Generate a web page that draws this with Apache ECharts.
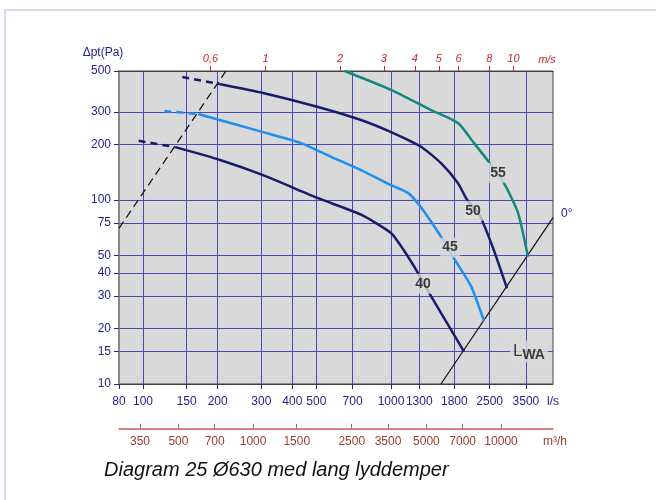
<!DOCTYPE html>
<html lang="no">
<head>
<meta charset="UTF-8">
<title>Diagram 25</title>
<script src="https://cdn.jsdelivr.net/npm/echarts@6/dist/echarts.min.js"></script>
<style>
    html, body { margin: 0; padding: 0; background: #fff; overflow: hidden; }
    .frame { position: absolute; left: 4px; top: 9px; width: 700px; height: 600px; border: 2px solid #d4dbf0; }
    #chart { position: absolute; left: 0; top: 0; width: 656px; height: 500px; }
</style>
</head>
<body>
<div class="frame"></div>
<div id="chart"></div>
<script type="text/javascript">
    // tick values of the axes
    var lsTicks = [80, 100, 150, 200, 300, 400, 500, 700, 1000, 1300, 1800, 2500, 3500];
    var msTicks = [0.6, 1, 2, 3, 4, 5, 6, 8, 10];
    var m3hTicks = [350, 500, 700, 1000, 1500, 2500, 3500, 5000, 7000, 10000];
    var paTicks = [10, 15, 20, 30, 40, 50, 75, 100, 200, 300, 500];

    // curves: [l/s, Pa]
    var curve40Dash = [[96, 209], [135, 193]];
    var curve40 = [[135, 193], [206, 164], [305, 136], [508, 102], [757, 83], [1000, 66], [1128, 53], [1285, 40], [1450, 30], [1970, 15]];
    var curve45Dash = [[122, 303], [167, 292]];
    var curve45 = [[167, 292], [305, 233], [434, 203], [573, 171], [757, 145], [1000, 120], [1171, 109], [1321, 91], [1591, 63], [1795, 48], [2102, 34], [2371, 22]];
    var curve50Dash = [[144, 464], [203, 425]];
    var curve50 = [[203, 425], [305, 380], [508, 319], [757, 271], [1000, 233], [1321, 194], [1591, 158], [1863, 123], [2025, 100], [2263, 84], [2602, 53], [2936, 33]];
    var curve55 = [[650, 500], [1000, 395], [1450, 307], [1863, 261], [2161, 203], [2484, 160], [2855, 123], [3252, 85], [3568, 49]];
    var limitLine = [[80, 70], [216, 500]];
    var lwaLine = [[1590, 10], [4500, 80]];
    var curveLabels = [[1346, 35, '40'], [1729, 55, '45'], [2141, 87, '50'], [2701, 140, '55']];
    var lwaLabel = [[3600, 15]];

    var qMin = 80, qMax = 4500;
    var msPerLs = 1 / 311.7;   // Ø630
    var m3hPerLs = 3.6;

    var navy = '#1b1b6e';
    var labelBlue = '#24248c';
    var red = '#c02a2a';
    var brown = '#9a3b2b';

    function plain(v) { return String(v); }

    function curve(data, color, dashed) {
        return {
            type: 'line',
            data: data,
            symbol: 'none',
            smooth: 0.2,
            lineStyle: {color: color, width: 2.5, type: dashed ? [7, 5] : 'solid'},
            z: 3
        };
    }

    var chart = echarts.init(document.getElementById('chart'));
    var option = {
        animation: false,
        textStyle: {fontFamily: 'Liberation Sans, Arial, sans-serif'},
        title: {
            text: 'Diagram 25 Ø630 med lang lyddemper',
            left: 99,
            top: 455,
            textStyle: {fontSize: 20, fontStyle: 'italic', fontWeight: 'normal', color: '#111'}
        },
        grid: {left: 119, top: 71, width: 434, height: 313, show: true, backgroundColor: '#d9d9d9', borderColor: '#444', borderWidth: 1},
        xAxis: [
            {
                type: 'log', min: qMin, max: qMax, position: 'bottom',
                name: 'l/s', nameLocation: 'end', nameGap: 0,
                nameTextStyle: {color: labelBlue, fontSize: 12, align: 'center', verticalAlign: 'top', padding: [12, 0, 0, 0]},
                axisLine: {show: true, lineStyle: {color: '#444'}},
                axisTick: {customValues: lsTicks, length: 5, lineStyle: {color: labelBlue}},
                axisLabel: {customValues: lsTicks, margin: 12, color: labelBlue, fontSize: 12, formatter: plain},
                splitLine: {show: true, lineStyle: {color: '#4848b8', width: 1}}
            },
            {
                type: 'log', min: qMin * msPerLs, max: qMax * msPerLs, position: 'top',
                name: 'm/s', nameLocation: 'end', nameGap: 0,
                nameTextStyle: {color: red, fontSize: 11, fontStyle: 'italic', align: 'center', verticalAlign: 'bottom', padding: [0, 12, 6, 0]},
                axisLine: {show: true, lineStyle: {color: '#444'}},
                axisTick: {customValues: msTicks, length: 5, lineStyle: {color: red}},
                axisLabel: {
                    customValues: msTicks, margin: 7, color: red, fontSize: 11, fontStyle: 'italic',
                    formatter: function (v) { return String(v).replace('.', ','); }
                },
                splitLine: {show: false}
            },
            {
                type: 'log', min: qMin * m3hPerLs, max: qMax * m3hPerLs, position: 'bottom', offset: 45,
                name: 'm³/h', nameLocation: 'end', nameGap: 0,
                nameTextStyle: {color: brown, fontSize: 12, align: 'center', verticalAlign: 'top', padding: [7, 0, 0, 4]},
                axisLine: {show: true, lineStyle: {color: '#c85a50', width: 1.5}},
                axisTick: {customValues: m3hTicks, inside: true, length: 5, lineStyle: {color: '#c85a50'}},
                axisLabel: {customValues: m3hTicks, margin: 7, color: brown, fontSize: 12, formatter: plain},
                splitLine: {show: false}
            }
        ],
        yAxis: {
            type: 'log', min: 10, max: 500,
            name: 'Δpt(Pa)', nameLocation: 'end', nameGap: 12,
            nameTextStyle: {color: labelBlue, fontSize: 12, align: 'center', padding: [0, 32, 0, 0]},
            axisLine: {show: true, lineStyle: {color: '#8a8a8a', width: 2}},
            axisTick: {customValues: paTicks, length: 5, lineStyle: {color: labelBlue}},
            axisLabel: {customValues: paTicks, margin: 8, color: labelBlue, fontSize: 12, formatter: plain},
            splitLine: {show: true, lineStyle: {color: '#4848b8', width: 1}}
        },
        series: [
            {
                type: 'line', data: limitLine, symbol: 'none',
                lineStyle: {color: '#111', width: 1.2, type: [8, 5]}, z: 2
            },
            {
                type: 'line', data: lwaLine, symbol: 'none',
                lineStyle: {color: '#111', width: 1.2}, z: 2,
                endLabel: {show: true, formatter: '0°', color: labelBlue, fontSize: 12, offset: [0, -4]}
            },
            curve(curve40Dash, navy, true),
            curve(curve40, navy, false),
            curve(curve45Dash, '#1e90f0', true),
            curve(curve45, '#1e90f0', false),
            curve(curve50Dash, navy, true),
            curve(curve50, navy, false),
            curve(curve55, '#13887e', false),
            {
                type: 'scatter', data: curveLabels, symbolSize: 0, z: 5,
                label: {
                    show: true, position: 'inside', color: '#111', fontSize: 14, fontWeight: 'bold',
                    backgroundColor: '#d9d9d9', padding: [3, 2],
                    formatter: function (p) { return p.data[2]; }
                }
            },
            {
                type: 'scatter', data: lwaLabel, symbolSize: 0, z: 5,
                label: {
                    show: true, position: 'inside', backgroundColor: '#d9d9d9', padding: [0, 3],
                    formatter: '{l|L}{s|WA}',
                    rich: {
                        l: {fontSize: 17, color: '#111'},
                        s: {fontSize: 14, fontWeight: 'bold', color: '#111', padding: [8, 0, 0, 0]}
                    }
                }
            }
        ]
    };
    chart.setOption(option);
</script>
</body>
</html>
